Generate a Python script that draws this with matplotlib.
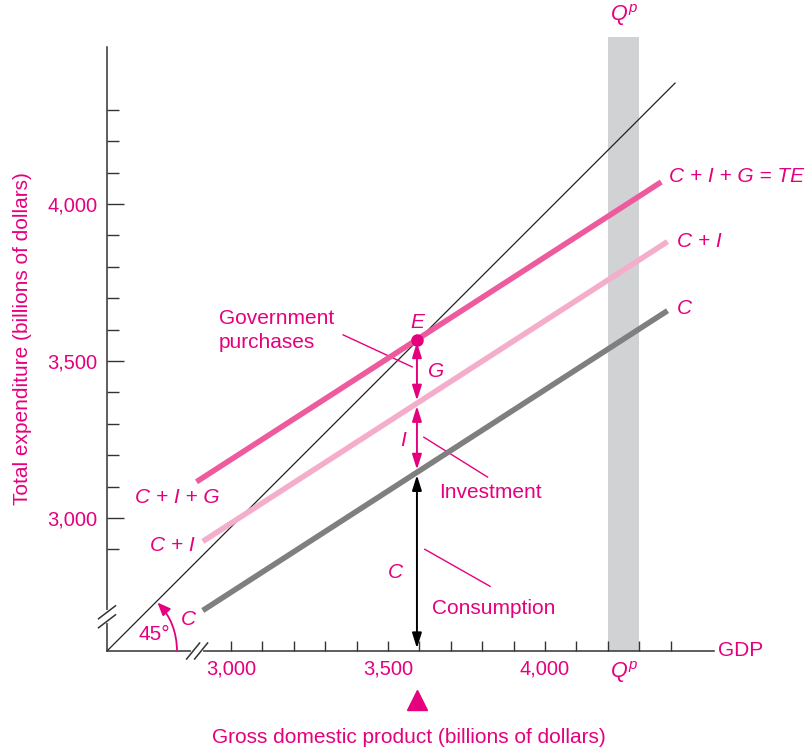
import numpy as np
import matplotlib
matplotlib.use("Agg")
import matplotlib.pyplot as plt
from matplotlib.patches import FancyArrowPatch
import matplotlib.transforms as mtransforms

plt.rcParams["font.family"] = ["Liberation Sans", "DejaVu Sans"]
plt.rcParams["mathtext.fontset"] = "custom"
plt.rcParams["mathtext.rm"] = "Liberation Sans"
plt.rcParams["mathtext.it"] = "Liberation Sans:italic"

MAGENTA = "#E5007E"
AXIS_COL = "#333333"

# ---- data (billions of dollars) ----
x_origin, y_origin = 2605, 2576          # where the broken axes meet
x_max, y_max = 4538, 4500
x_ticks = np.arange(3000, 4401, 100)
x_tick_labels = {3000: "3,000", 3500: "3,500", 4000: "4,000"}
y_major = [3000, 3500, 4000]
y_major_labels = ["3,000", "3,500", "4,000"]
y_minor = [2900, 3100, 3200, 3300, 3400, 3600, 3700, 3800, 3900, 4100, 4200, 4300]

c_gdp = [2910, 4390]
c_vals = [2705, 3660]
ci_gdp = [2910, 4390]
ci_vals = [2925, 3880]
cig_gdp = [2890, 4370]
cig_vals = [3115, 4070]
line45_end = 4414

gdp_eq = 3592
qp_range = [4200, 4300]
qp_top = 4532

fig = plt.figure(figsize=(8.08, 7.53), dpi=100)
ax = fig.add_axes([107 / 808, 102 / 753, 607 / 808, 604 / 753])
ax.set_xlim(x_origin, x_max)
ax.set_ylim(y_origin, y_max)

for s in ["top", "right"]:
    ax.spines[s].set_visible(False)
for s in ["left", "bottom"]:
    ax.spines[s].set_color(AXIS_COL)
    ax.spines[s].set_linewidth(1.1)

fs = 15

ax.set_xticks(x_ticks)
ax.set_xticklabels([x_tick_labels.get(int(t), "") for t in x_ticks])
ax.tick_params(axis="x", direction="in", length=7.5, width=1.0, color=AXIS_COL,
               labelcolor=MAGENTA, labelsize=14.5, pad=6)
ax.set_yticks(y_major)
ax.set_yticklabels(y_major_labels)
ax.set_yticks(y_minor, minor=True)
ax.tick_params(axis="y", which="major", direction="in", length=12, width=1.0,
               color=AXIS_COL, labelcolor=MAGENTA, labelsize=14.5, pad=7)
ax.tick_params(axis="y", which="minor", direction="in", length=8.5, width=1.0,
               color=AXIS_COL)

ax.text(-0.14, 0.518, "Total expenditure (billions of dollars)", color=MAGENTA,
        fontsize=fs, rotation=90, ha="center", va="center", transform=ax.transAxes)
ax.text(0.4975, -0.1424, "Gross domestic product (billions of dollars)", color=MAGENTA,
        fontsize=fs, ha="center", va="center", transform=ax.transAxes)

# potential output band
ax.fill_between(qp_range, y_origin, qp_top, color="#D1D2D4", lw=0, zorder=0, clip_on=False)
ax.text(np.mean(qp_range), qp_top + 30, "$Q^p$", color=MAGENTA, fontsize=15.5,
        ha="center", va="bottom")
ax.text(np.mean(qp_range), y_origin - 25, "$Q^p$", color=MAGENTA, fontsize=15.5,
        ha="center", va="top")

# 45 degree line
x45 = np.array([x_origin, line45_end])
ax.plot(x45, x45 - (x_origin - y_origin), color="#222222", lw=0.9, zorder=2)

# expenditure lines
ax.plot(c_gdp, c_vals, color="#7F7F80", lw=4, solid_capstyle="butt", zorder=3)
ax.plot(ci_gdp, ci_vals, color="#F4AECB", lw=4, solid_capstyle="butt", zorder=3)
ax.plot(cig_gdp, cig_vals, color="#EE5A9E", lw=4, solid_capstyle="butt", zorder=3)

c_eq = np.interp(gdp_eq, c_gdp, c_vals)
ci_eq = np.interp(gdp_eq, ci_gdp, ci_vals)
e_eq = np.interp(gdp_eq, cig_gdp, cig_vals)


def double_arrow(y0, y1, color):
    a = FancyArrowPatch((gdp_eq, y0), (gdp_eq, y1),
                        arrowstyle="<|-|>,head_length=0.7,head_width=0.22",
                        mutation_scale=13, color=color, lw=1.4, shrinkA=2, shrinkB=2,
                        zorder=5, clip_on=False)
    ax.add_patch(a)


double_arrow(y_origin, c_eq, "black")
double_arrow(c_eq, ci_eq, MAGENTA)
double_arrow(ci_eq, e_eq, MAGENTA)
ax.plot(gdp_eq, e_eq, "o", color=MAGENTA, ms=8, zorder=6)

# equilibrium marker under the axis
trans = mtransforms.blended_transform_factory(ax.transData, ax.transAxes)
ax.plot(gdp_eq, -0.081, "^", color=MAGENTA, ms=15, transform=trans, clip_on=False)

# labels on the chart
lab = dict(color=MAGENTA, fontsize=fs, style="italic")
ax.text(gdp_eq, e_eq + 25, "E", ha="center", va="bottom", **lab)
ax.text(gdp_eq + 35, (ci_eq + e_eq) / 2, "G", ha="left", va="center", **lab)
ax.text(gdp_eq - 35, (c_eq + ci_eq) / 2 - 10, "I", ha="right", va="center", **lab)
ax.text(gdp_eq - 45, 2825, "C", ha="right", va="center", **lab)

ax.text(cig_gdp[1] + 25, cig_vals[1] + 18, "C + I + G = TE", ha="left", va="center", **lab)
ax.text(ci_gdp[1] + 30, ci_vals[1] + 2, "C + I", ha="left", va="center", **lab)
ax.text(c_gdp[1] + 30, c_vals[1] + 6, "C", ha="left", va="center", **lab)
ax.text(cig_gdp[0] + 73, cig_vals[0] - 50, "C + I + G", ha="right", va="center", **lab)
ax.text(ci_gdp[0] - 25, ci_vals[0] - 12, "C + I", ha="right", va="center", **lab)
ax.text(c_gdp[0] - 22, c_vals[0] - 28, "C", ha="right", va="center", **lab)

ax.text(3000 - 38, 3597, "Government\npurchases", color=MAGENTA, fontsize=fs,
        ha="left", va="center", linespacing=1.3)
ax.plot([3357, 3577], [3583, 3481], color=MAGENTA, lw=1)
ax.text(3663, 3080, "Investment", color=MAGENTA, fontsize=fs, ha="left", va="center")
ax.plot([3614, 3817], [3257, 3130], color=MAGENTA, lw=1)
ax.text(3640, 2712, "Consumption", color=MAGENTA, fontsize=fs, ha="left", va="center")
ax.plot([3617, 3825], [2900, 2782], color=MAGENTA, lw=1)

ax.text(x_max + 13, y_origin, "GDP", color=MAGENTA, fontsize=fs, ha="left", va="center")

# 45 degree arc
r = 223
arc = FancyArrowPatch((x_origin + r, y_origin),
                      (x_origin + r * np.cos(np.pi / 4), y_origin + r * np.sin(np.pi / 4)),
                      connectionstyle="arc3,rad=0.2", arrowstyle="-|>,head_length=0.6,head_width=0.25",
                      mutation_scale=13, color=MAGENTA, lw=1.3, shrinkA=0, shrinkB=1, zorder=4)
ax.add_patch(arc)
ax.text(x_origin + 150, y_origin + 52, "45°", color=MAGENTA, fontsize=fs, ha="center", va="center")

# axis breaks
u = 1 / 0.314  # data units per pixel
xb = 2892
ax.plot([xb - 4 * u, xb + 4 * u], [y_origin, y_origin], color="white", lw=3, zorder=7, clip_on=False)
for dx in (-4 * u, 4 * u):
    ax.plot([xb + dx - 6.5 * u, xb + dx + 6.5 * u], [y_origin - 8 * u, y_origin + 8 * u],
            color=AXIS_COL, lw=1.1, zorder=8, clip_on=False)
yb = 2685
ax.plot([x_origin, x_origin], [yb - 4.5 * u, yb + 4.5 * u], color="white", lw=3, zorder=7, clip_on=False)
for dy in (-4.5 * u, 4.5 * u):
    ax.plot([x_origin - 8.5 * u, x_origin + 8.5 * u], [yb + dy - 6.5 * u, yb + dy + 6.5 * u],
            color=AXIS_COL, lw=1.1, zorder=8, clip_on=False)

fig.savefig("out.png", dpi=100)
